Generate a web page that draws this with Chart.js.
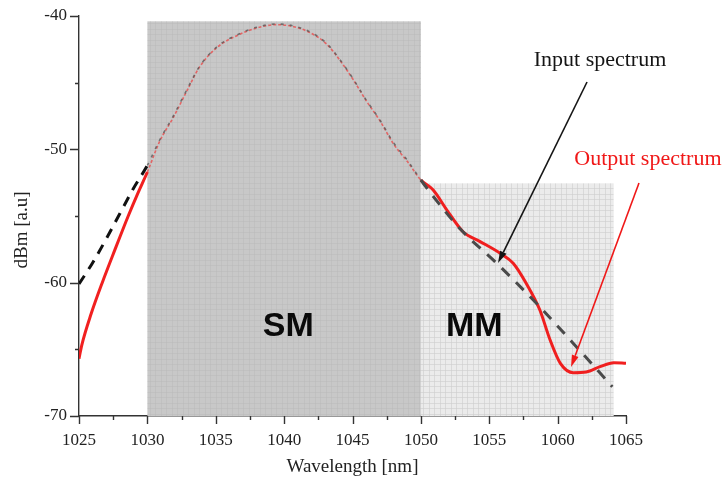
<!DOCTYPE html>
<html><head><meta charset="utf-8">
<script src="https://cdn.jsdelivr.net/npm/chart.js@4.4.1/dist/chart.umd.min.js"></script>
<style>html,body{margin:0;padding:0;background:#fff;}canvas{display:block;}</style>
</head><body>
<canvas id="c" width="727" height="481"></canvas>
<script>
// ---- data ----
const inputWl = [1025, 1026, 1027, 1028, 1029, 1030, 1030.9, 1031.9, 1032.9, 1033.8, 1035.1, 1036.8, 1038.0, 1039.4, 1040.7, 1041.9, 1043.1, 1044.1, 1045.1, 1046.0, 1047.0, 1048.0, 1049.0, 1050.0, 1051.5, 1052.9, 1055.6, 1058.5, 1061.1, 1064.0];
const inputDb = [-60.1, -58.5, -56.7, -54.8, -52.9, -51.2, -49.3, -47.5, -45.5, -43.8, -42.3, -41.3, -40.85, -40.6, -40.75, -41.2, -42.05, -43.3, -44.8, -46.3, -47.8, -49.5, -50.8, -52.3, -54.3, -56.0, -58.6, -61.6, -64.5, -67.8];
const outputWl = [1025, 1025.2, 1025.9, 1026.7, 1027.6, 1028.6, 1029.3, 1030, 1030.9, 1031.9, 1032.9, 1033.8, 1035.1, 1036.8, 1038.0, 1039.4, 1040.7, 1041.9, 1043.1, 1044.1, 1045.1, 1046.0, 1047.0, 1048.0, 1049.0, 1050.0, 1050.9, 1051.9, 1053.1, 1054.3, 1055.8, 1056.75, 1057.7, 1058.7, 1059.45, 1060.2, 1061.15, 1062.1, 1063.1, 1064.1, 1065];
const outputDb = [-65.7, -64.7, -62.3, -60.0, -57.6, -55.0, -53.3, -51.7, -49.4, -47.6, -45.6, -43.85, -42.35, -41.35, -40.9, -40.65, -40.8, -41.25, -42.1, -43.35, -44.85, -46.35, -47.85, -49.6, -50.9, -52.3, -53.05, -54.55, -56.2, -56.9, -57.8, -58.55, -60.05, -62.05, -64.3, -66.05, -66.75, -66.7, -66.3, -66.0, -66.05];

const xMin = 1025, xMax = 1065, xStep = 5, xMinorStep = 2.5;
const yMin = -70, yMax = -40, yStep = 10, yMinorStep = 5;

const smRegion = {from: 1030, to: 1050, top: -40.4};
const mmRegion = {from: 1050, to: 1064.1, top: -52.55};
const regionLabels = [{text: 'SM', x: 1040.3, y: -63.1}, {text: 'MM', x: 1053.9, y: -63.1}];
const annotations = [
  {text: 'Input spectrum', color: '#151515', tx: 1063.1, ty: -43.3, from: [1062.15, -44.95], to: [1055.64, -58.53]},
  {text: 'Output spectrum', color: '#f01818', tx: 1066.6, ty: -50.75, from: [1065.95, -52.53], to: [1060.98, -66.33]}
];
const xTitle = 'Wavelength [nm]';
const yTitle = 'dBm [a.u]';

const inSM = v => v > smRegion.from && v < smRegion.to;
const toXY = (xs, ys) => xs.map((v, i) => ({x: v, y: ys[i]}));

const serif = '"Liberation Serif", "Times New Roman", serif';

function drawArrow(ctx, x0, y0, x1, y1, color, headLen, headW) {
  ctx.save();
  ctx.strokeStyle = color; ctx.fillStyle = color; ctx.lineWidth = 1.6;
  const a = Math.atan2(y1 - y0, x1 - x0);
  const bx = x1 - headLen * Math.cos(a), by = y1 - headLen * Math.sin(a);
  ctx.beginPath(); ctx.moveTo(x0, y0); ctx.lineTo(bx, by); ctx.stroke();
  ctx.beginPath();
  ctx.moveTo(x1, y1);
  ctx.lineTo(bx + headW * Math.sin(a), by - headW * Math.cos(a));
  ctx.lineTo(bx - headW * Math.sin(a), by + headW * Math.cos(a));
  ctx.closePath(); ctx.fill();
  ctx.restore();
}

const decor = {
  id: 'decor',
  beforeDatasetsDraw(chart) {
    const {ctx, scales: {x, y}} = chart;
    const drawRegion = (r, fill, line) => {
      const l = x.getPixelForValue(r.from), rr = x.getPixelForValue(r.to);
      const t = y.getPixelForValue(r.top), b = y.getPixelForValue(yMin);
      ctx.save();
      ctx.fillStyle = fill; ctx.fillRect(l, t, rr - l, b - t);
      ctx.beginPath(); ctx.rect(l, t, rr - l, b - t); ctx.clip();
      ctx.strokeStyle = line; ctx.lineWidth = 1;
      ctx.beginPath();
      for (let px = l + 2.5; px < rr; px += 5.5) { ctx.moveTo(Math.round(px) + 0.5, t); ctx.lineTo(Math.round(px) + 0.5, b); }
      for (let py = b - 2.5; py > t; py -= 5.5) { ctx.moveTo(l, Math.round(py) + 0.5); ctx.lineTo(rr, Math.round(py) + 0.5); }
      ctx.stroke();
      ctx.restore();
    };
    drawRegion(smRegion, '#c8c8c8', 'rgba(185,185,185,0.5)');
    drawRegion(mmRegion, '#ebebeb', 'rgba(205,205,205,0.6)');
    ctx.save();
    ctx.fillStyle = '#0a0a0a';
    ctx.font = 'bold 34px "Liberation Sans", Arial, sans-serif';
    ctx.textAlign = 'center'; ctx.textBaseline = 'alphabetic';
    regionLabels.forEach(r => {
      ctx.fillText(r.text, x.getPixelForValue(r.x), y.getPixelForValue(r.y) + 0.36 * 34);
    });
    ctx.restore();
  },
  afterDraw(chart) {
    const {ctx, scales: {x, y}, chartArea: ca} = chart;
    ctx.save();
    ctx.strokeStyle = '#333'; ctx.lineWidth = 1.4;
    ctx.beginPath();
    for (let v = yMin; v <= yMax + 1e-9; v += yMinorStep) {
      const py = Math.round(y.getPixelForValue(v)) + 0.5;
      const len = (Math.abs(v % yStep) < 1e-9) ? 9 : 4;
      ctx.moveTo(ca.left, py); ctx.lineTo(ca.left - len, py);
    }
    for (let v = xMin; v <= xMax + 1e-9; v += xMinorStep) {
      const px = Math.round(x.getPixelForValue(v)) + 0.5;
      const len = (Math.abs((v - xMin) % xStep) < 1e-9) ? 8 : 4;
      ctx.moveTo(px, ca.bottom); ctx.lineTo(px, ca.bottom + len);
    }
    ctx.stroke();
    // annotations
    annotations.forEach(a => {
      ctx.font = '22px ' + serif;
      ctx.fillStyle = a.color; ctx.textAlign = 'center'; ctx.textBaseline = 'middle';
      ctx.fillText(a.text, x.getPixelForValue(a.tx), y.getPixelForValue(a.ty));
      drawArrow(ctx, x.getPixelForValue(a.from[0]), y.getPixelForValue(a.from[1]),
        x.getPixelForValue(a.to[0]), y.getPixelForValue(a.to[1]), a.color, 12, 3.5);
    });
    // axis titles
    ctx.fillStyle = '#222'; ctx.font = '19px ' + serif;
    ctx.textAlign = 'center'; ctx.textBaseline = 'middle';
    ctx.fillText(xTitle, (ca.left + ca.right) / 2, 467);
    ctx.translate(22, 230); ctx.rotate(-Math.PI / 2);
    ctx.fillText(yTitle, 0, 0);
    ctx.restore();
  }
};

const segStyle = (inside, outside) => ctx => {
  const m = (ctx.p0.parsed.x + ctx.p1.parsed.x) / 2;
  return inSM(m) ? inside : outside;
};

new Chart(document.getElementById('c'), {
  type: 'line',
  data: {
    datasets: [
      {
        label: 'Output spectrum',
        data: toXY(outputWl, outputDb),
        borderColor: '#f01010', borderWidth: 3, pointRadius: 0,
        cubicInterpolationMode: 'monotone',
        segment: {
          borderColor: segStyle('rgba(230,90,90,0.9)', 'rgba(240,20,20,0.95)'),
          borderWidth: segStyle(1.6, 3),
          borderDash: segStyle([3, 2], [])
        },
        order: 2
      },
      {
        label: 'Input spectrum',
        data: toXY(inputWl, inputDb),
        borderColor: '#111', borderWidth: 3, pointRadius: 0,
        cubicInterpolationMode: 'monotone',
        segment: {
          borderColor: ctx => {
            const m = (ctx.p0.parsed.x + ctx.p1.parsed.x) / 2;
            return inSM(m) ? 'rgba(90,90,90,0.8)' : (m > smRegion.to ? '#4a4a4a' : '#111');
          },
          borderWidth: segStyle(1.6, 3),
          borderDash: ctx => {
            const m = (ctx.p0.parsed.x + ctx.p1.parsed.x) / 2;
            return inSM(m) ? [3, 6] : (m > smRegion.to ? [11, 9] : [10, 8]);
          }
        },
        order: 1
      }
    ]
  },
  options: {
    responsive: false, animation: false, devicePixelRatio: 1,
    layout: {padding: {top: 16, right: 101, left: 0, bottom: 0}},
    plugins: {legend: {display: false}, tooltip: {enabled: false}},
    scales: {
      x: {
        type: 'linear', min: xMin, max: xMax,
        afterFit: s => { s.height = 65; s.paddingLeft = 0; s.paddingRight = 0; },
        grid: {display: true, drawOnChartArea: false, drawTicks: false},
        border: {display: true, color: '#333', width: 1.4},
        ticks: {stepSize: xStep, padding: 14, color: '#222', font: {family: serif, size: 17}, maxRotation: 0, autoSkip: false,
          callback: v => String(v)}
      },
      y: {
        type: 'linear', min: yMin, max: yMax,
        afterFit: s => { s.width = 79; s.paddingTop = 0; s.paddingBottom = 0; },
        grid: {display: true, drawOnChartArea: false, drawTicks: false},
        border: {display: true, color: '#333', width: 1.4},
        ticks: {stepSize: yStep, padding: 12, color: '#222', font: {family: serif, size: 17},
          callback: v => String(v)}
      }
    }
  },
  plugins: [decor]
});
</script>
</body></html>
